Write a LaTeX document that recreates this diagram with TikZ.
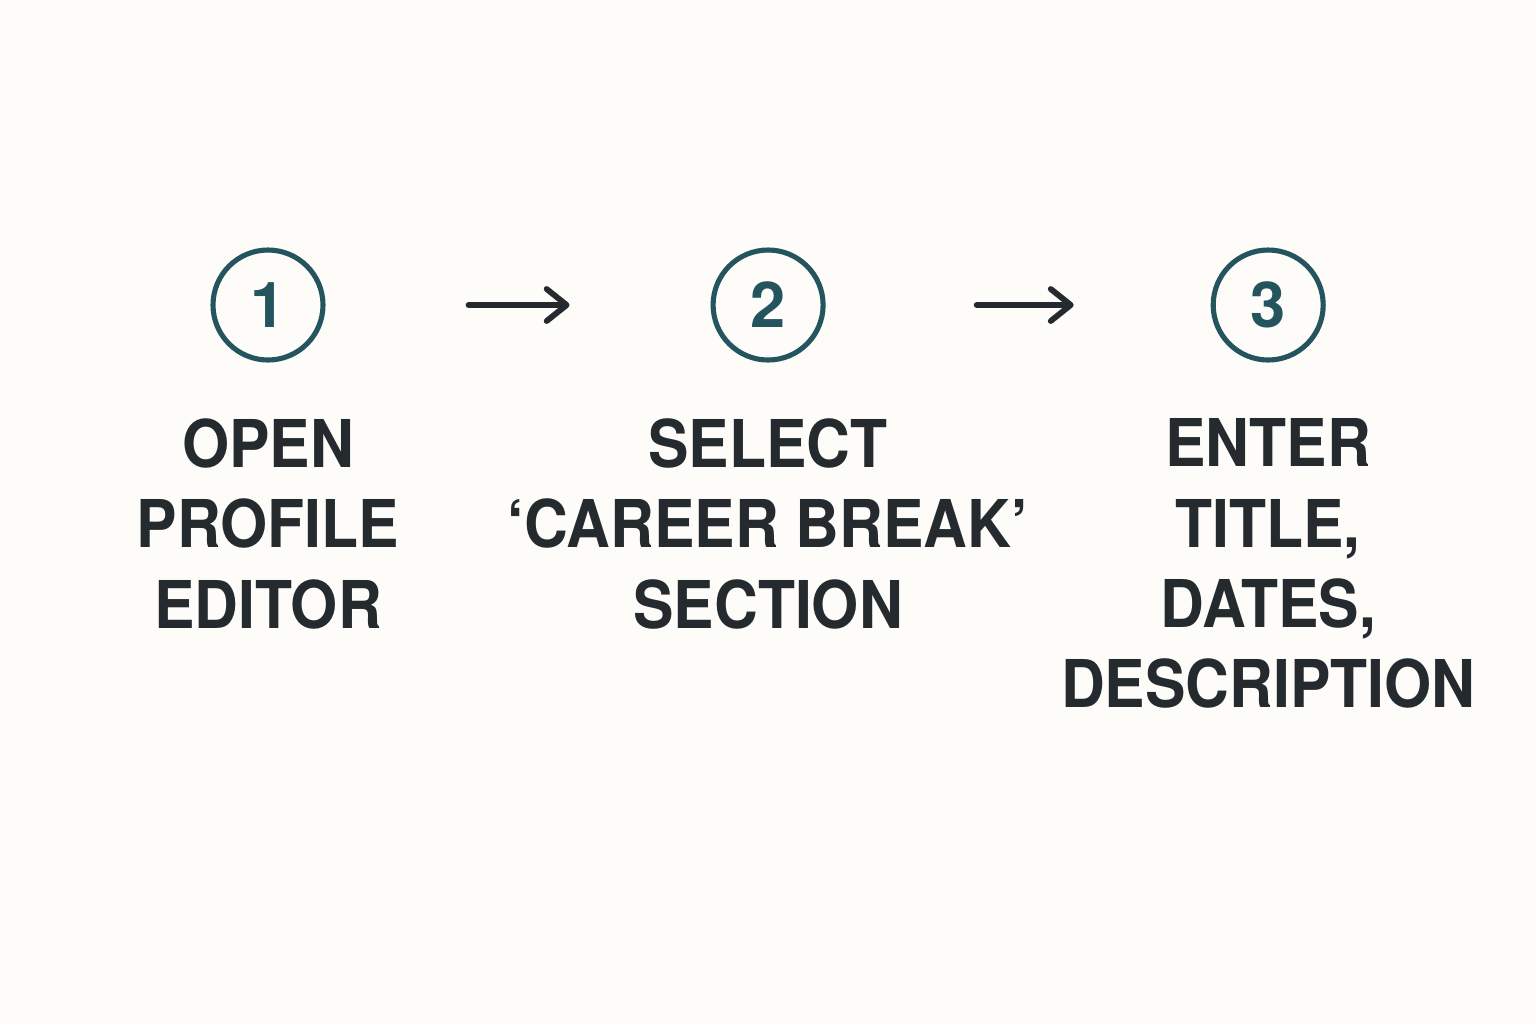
\documentclass[tikz,border=0pt]{standalone}
\usepackage{fontspec}
\usepackage{tikz}
\usetikzlibrary{arrows.meta,positioning}
\newfontfamily\heros[FakeStretch=0.92]{TeX Gyre Heros}
\newfontfamily\herosnum{TeX Gyre Heros}
\definecolor{cT}{RGB}{36,84,94}
\definecolor{cD}{RGB}{36,42,46}
\definecolor{bg}{RGB}{253,252,248}
\tikzset{
  num/.style={draw=cT, circle, line width=2.9pt, minimum size=2.2cm, inner sep=0pt, text=cT, font=\herosnum\bfseries\fontsize{36}{40}\selectfont},
  lbl/.style={align=center, inner sep=0pt, text=cD, font=\heros\bfseries\fontsize{37.5}{45.6}\selectfont},
  arr/.style={-{Straight Barb[length=4mm, width=6.4mm, round]}, line width=3.3pt, draw=cD, line cap=round}
}

\begin{document}
\begin{tikzpicture}[node distance=1.12cm and 7.7cm]
  \fill[bg] (0,0) rectangle (30.72,-20.48);
  \useasboundingbox (0,0) rectangle (30.72,-20.48);
  \node[num] (c1) at (5.36,-6.1) {1};
  \node[num, right=of c1] (c2) {2};
  \node[num, right=of c2] (c3) {3};
  \node[lbl, below=of c1, anchor=north] (t1) {OPEN\\PROFILE\\EDITOR};
  \node[lbl, below=of c2, anchor=north] (t2) {SELECT\\‘CAREER BREAK’\\SECTION};
  \node[lbl, below=of c3, anchor=north] (t3) {ENTER\\TITLE,\\DATES,\\DESCRIPTION};
  \draw[arr, shorten <=2.86cm, shorten >=2.82cm] (c1) -- (c2);
  \draw[arr, shorten <=3.02cm, shorten >=2.74cm] (c2) -- (c3);
\end{tikzpicture}
\end{document}
